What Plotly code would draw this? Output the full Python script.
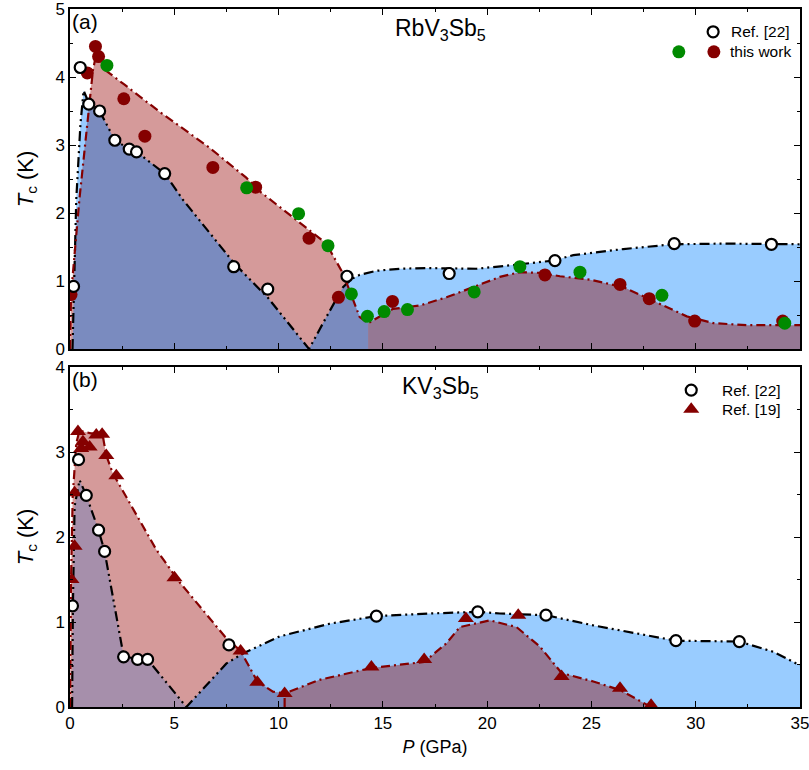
import numpy as np
import plotly.graph_objects as go

# ---------------- (a) RbV3Sb5 ----------------
ref22_a_P = [0.17, 0.49, 0.90, 1.42, 2.15, 2.84, 3.19, 4.54, 7.85, 9.48, 13.28, 18.18, 23.25, 28.97, 33.63]
ref22_a_Tc = [0.92, 4.14, 3.60, 3.50, 3.07, 2.94, 2.90, 2.58, 1.21, 0.88, 1.07, 1.11, 1.30, 1.55, 1.54]

work_red_P = [0.05, 0.83, 1.22, 1.37, 2.58, 3.59, 6.85, 8.90, 11.46, 12.87, 15.46, 22.77, 26.37, 27.77, 29.95, 34.17]
work_red_Tc = [0.80, 4.06, 4.45, 4.30, 3.68, 3.13, 2.67, 2.38, 1.63, 0.76, 0.70, 1.09, 0.95, 0.74, 0.41, 0.41]

work_green_P = [1.77, 8.47, 10.96, 12.37, 13.49, 14.26, 15.06, 16.18, 19.38, 21.57, 24.45, 28.38, 34.27]
work_green_Tc = [4.17, 2.37, 1.99, 1.52, 0.81, 0.48, 0.55, 0.58, 0.84, 1.21, 1.13, 0.79, 0.38]

# guide lines (as drawn in the figure)
guide_black_a_P = [0.12, 0.2, 0.3, 0.5, 0.65, 0.9, 1.42, 2.15, 2.84, 3.19, 4.54, 5.4, 7.9, 9.5, 11.46,
                   12.29, 13.09, 13.5, 13.89, 14.69, 15.81, 17.09, 19.49, 21.09, 23.17, 24.13, 26.53,
                   28.93, 31.32, 35.0]
guide_black_a_Tc = [0.0, 1.0, 2.2, 3.3, 3.8, 3.62, 3.5, 3.07, 2.94, 2.90, 2.58, 2.2, 1.25, 0.75, 0.0,
                    0.47, 0.91, 1.03, 1.09, 1.15, 1.18, 1.19, 1.18, 1.23, 1.30, 1.38, 1.47,
                    1.54, 1.55, 1.54]

guide_red_a_P = [0.0, 0.05, 0.45, 0.94, 1.1, 1.3, 1.57, 2.6, 4.29, 6.69, 8.45, 9.09, 10.69, 12.29,
                 13.09, 13.89, 14.29, 15.49, 16.77, 18.05, 19.33, 20.61, 21.57, 22.53, 23.49, 24.93,
                 26.53, 27.81, 29.57, 30.85, 32.45, 35.0]
guide_red_a_Tc = [0.0, 0.8, 2.2, 3.69, 4.1, 4.4, 4.13, 3.89, 3.49, 2.96, 2.52, 2.32, 1.93, 1.55,
                  1.11, 0.47, 0.38, 0.59, 0.64, 0.76, 0.91, 1.06, 1.13, 1.12, 1.07, 1.02,
                  0.91, 0.73, 0.48, 0.38, 0.35, 0.35]
split_a_P = 14.29   # pressure where the two "this work" domes meet

# ---------------- (b) KV3Sb5 ----------------
ref22_b_P = [0.12, 0.41, 0.78, 1.37, 1.66, 2.57, 3.24, 3.72, 7.62, 14.69, 19.55, 22.82, 29.05, 32.09]
ref22_b_Tc = [1.19, 2.91, 2.49, 2.08, 1.83, 0.59, 0.56, 0.56, 0.73, 1.07, 1.12, 1.08, 0.78, 0.77]

ref19_P = [0.07, 0.22, 0.22, 0.38, 0.54, 0.62, 0.94, 1.26, 1.54, 1.74, 2.22, 5.01, 8.18, 8.98, 10.29,
           14.45, 16.98, 18.98, 21.49, 23.57, 26.37, 27.86]
ref19_Tc = [1.50, 1.89, 2.52, 3.24, 3.04, 3.12, 3.06, 3.20, 3.21, 2.96, 2.72, 1.52, 0.66, 0.29, 0.16,
            0.47, 0.56, 1.04, 1.08, 0.36, 0.22, 0.02]

guide_black_b1_P = [0.1, 0.14, 0.22, 0.46, 0.78, 1.37, 1.66, 2.57, 3.24, 3.72, 5.58]
guide_black_b1_Tc = [0.0, 1.2, 2.36, 2.67, 2.49, 2.08, 1.83, 0.6, 0.56, 0.56, 0.0]
guide_black_b2_P = [5.58, 7.49, 8.29, 10.05, 12.45, 14.69, 17.25, 19.55, 20.61, 22.82, 25.09, 29.05,
                    32.09, 33.72, 35.0]
guide_black_b2_Tc = [0.0, 0.51, 0.63, 0.83, 0.98, 1.07, 1.10, 1.12, 1.10, 1.08, 0.96, 0.78,
                     0.77, 0.65, 0.49]

guide_red_b1_P = [0.0, 0.05, 0.13, 0.3, 0.45, 1.0, 1.55, 1.74, 2.05, 4.14, 5.25, 7.49, 8.18, 8.98,
                  9.73, 10.29]
guide_red_b1_Tc = [0.0, 1.5, 2.48, 3.1, 3.25, 3.22, 3.22, 2.96, 2.75, 1.85, 1.47, 0.81, 0.66, 0.30,
                   0.18, 0.16]
guide_red_b2_P = [10.29, 10.29, 11.97, 14.45, 16.98, 18.05, 18.69, 20.13, 21.41, 22.53, 23.57, 25.09,
                  26.37, 27.86]
guide_red_b2_Tc = [0.0, 0.16, 0.32, 0.46, 0.53, 0.75, 0.94, 1.02, 0.94, 0.71, 0.40, 0.30, 0.20, 0.0]

# ---------------- styles ----------------
C_LIGHTBLUE = '#99CCFF'
C_PINK = '#D59A9A'
C_DARKBLUE = '#7A8BBF'
C_PURPLE = '#957894'
C_LAVENDER = '#A68FAB'
C_RED = '#850000'
C_GREEN = '#008A00'
DASH_BLACK = '10px,4px,2px,4px,2px,4px'
DASH_RED = '9px,4px,2px,4px'
FONT = 'Liberation Sans, Arial, sans-serif'

fig = go.Figure()


def under(P, T):
    P = list(P); T = list(T)
    return [P[0]] + P + [P[-1]], [0] + T + [0]


def under_min(Pa, Ta, Pb, Tb, x0, x1):
    xs = np.union1d(np.linspace(x0, x1, 800), [p for p in list(Pa) + list(Pb) if x0 <= p <= x1])
    ys = np.minimum(np.interp(xs, Pa, Ta), np.interp(xs, Pb, Tb))
    return [x0] + list(xs) + [x1], [0] + list(ys) + [0]


def fill(xy, color, ax):
    xs, ys = xy
    fig.add_trace(go.Scatter(x=xs, y=ys, mode='none', fill='toself', fillcolor=color,
                             hoverinfo='skip', showlegend=False, xaxis='x' + ax, yaxis='y' + ax))


def line(P, T, color, dash, ax, width=2.2):
    fig.add_trace(go.Scatter(x=P, y=T, mode='lines', line=dict(color=color, dash=dash, width=width),
                             hoverinfo='skip', showlegend=False, xaxis='x' + ax, yaxis='y' + ax))


def marks(P, T, ax, symbol, size, color, lcolor, lwidth, clip=True):
    fig.add_trace(go.Scatter(x=P, y=T, mode='markers', cliponaxis=clip,
                             marker=dict(symbol=symbol, size=size, color=color,
                                         line=dict(color=lcolor, width=lwidth)),
                             showlegend=False, xaxis='x' + ax, yaxis='y' + ax))


# ----- panel (a) fills -----
ia = guide_red_a_P.index(split_a_P)
red_a1_P, red_a1_T = guide_red_a_P[:ia + 1], guide_red_a_Tc[:ia + 1]
red_a2_P, red_a2_T = guide_red_a_P[ia:], guide_red_a_Tc[ia:]
fill(under(guide_black_a_P, guide_black_a_Tc), C_LIGHTBLUE, '')
fill(under(red_a1_P, red_a1_T), C_PINK, '')
fill(under_min(guide_black_a_P, guide_black_a_Tc, guide_red_a_P, guide_red_a_Tc, 0.0, split_a_P),
     C_DARKBLUE, '')
fill(under(red_a2_P, red_a2_T), C_PURPLE, '')
line(guide_black_a_P, guide_black_a_Tc, 'black', DASH_BLACK, '')
line(guide_red_a_P, guide_red_a_Tc, C_RED, DASH_RED, '')
marks(work_red_P, work_red_Tc, '', 'circle', 13, C_RED, C_RED, 0)
marks(work_green_P, work_green_Tc, '', 'circle', 13, C_GREEN, C_GREEN, 0)
marks(ref22_a_P, ref22_a_Tc, '', 'circle', 11, 'white', 'black', 2.2)

# ----- panel (b) fills -----
fill(under(guide_black_b2_P, guide_black_b2_Tc), C_LIGHTBLUE, '2')
fill(under(guide_red_b1_P, guide_red_b1_Tc), C_PINK, '2')
fill(under_min(guide_black_b1_P, guide_black_b1_Tc, guide_red_b1_P, guide_red_b1_Tc,
               guide_black_b1_P[0], guide_black_b1_P[-1]), C_LAVENDER, '2')
fill(under_min(guide_black_b2_P, guide_black_b2_Tc, guide_red_b1_P, guide_red_b1_Tc,
               guide_black_b2_P[0], guide_red_b1_P[-1]), C_DARKBLUE, '2')
fill(under(guide_red_b2_P, guide_red_b2_Tc), C_PURPLE, '2')
line(guide_black_b1_P + guide_black_b2_P[1:], guide_black_b1_Tc + guide_black_b2_Tc[1:],
     'black', DASH_BLACK, '2')
line(guide_red_b1_P, guide_red_b1_Tc, C_RED, DASH_RED, '2')
line(guide_red_b2_P, guide_red_b2_Tc, C_RED, DASH_RED, '2')
marks(ref19_P, ref19_Tc, '2', 'triangle-up', 14, C_RED, C_RED, 0)
marks(ref22_b_P, ref22_b_Tc, '2', 'circle', 11, 'white', 'black', 2.2)

# ----- legends (key positions as fractions of each panel) -----
XMAX = 35.0
YMAX_A, YMAX_B = 5.0, 4.0
marks([0.881 * XMAX], [0.933 * YMAX_A], '', 'circle', 11, 'white', 'black', 2.2, clip=False)
marks([0.834 * XMAX], [0.874 * YMAX_A], '', 'circle', 13, C_GREEN, C_GREEN, 0, clip=False)
marks([0.882 * XMAX], [0.874 * YMAX_A], '', 'circle', 13, C_RED, C_RED, 0, clip=False)
marks([0.851 * XMAX], [0.932 * YMAX_B], '2', 'circle', 11, 'white', 'black', 2.2, clip=False)
marks([0.851 * XMAX], [0.876 * YMAX_B], '2', 'triangle-up', 14, C_RED, C_RED, 0, clip=False)

ann = []
def text(t, x, y, ax, size, xanchor='left'):
    ann.append(dict(text=t, x=x, y=y, xref='x' + ax + ' domain', yref='y' + ax + ' domain',
                    xanchor=xanchor, yanchor='middle', showarrow=False,
                    font=dict(size=size, family=FONT, color='black')))

text('Ref. [22]', 0.903, 0.933, '', 15.5)
text('this work', 0.902, 0.874, '', 15.5)
text('Ref. [22]', 0.891, 0.932, '2', 15.5)
text('Ref. [19]', 0.891, 0.876, '2', 15.5)
text('RbV<sub>3</sub>Sb<sub>5</sub>', 0.508, 0.94, '', 23, 'center')
text('KV<sub>3</sub>Sb<sub>5</sub>', 0.508, 0.94, '2', 23, 'center')
text('(a)', 0.0, 0.962, '', 21)
text('(b)', 0.0, 0.962, '2', 21)

axis_common = dict(showline=True, linecolor='black', linewidth=1.5, mirror='ticks',
                   ticks='inside', ticklen=6, tickwidth=1.4, tickcolor='black',
                   showgrid=False, zeroline=False, ticklabeloverflow='allow', automargin=False,
                   tickfont=dict(size=17, family=FONT, color='black'))

fig.update_layout(
    width=809, height=770,
    margin=dict(l=70, r=9, t=9, b=63),
    plot_bgcolor='white', paper_bgcolor='white',
    showlegend=False,
    font=dict(family=FONT, color='black'),
    annotations=ann,
    xaxis=dict(domain=[0, 1], range=[0, XMAX], dtick=5, anchor='y', showticklabels=False,
               minor=dict(dtick=2.5, ticks='inside', ticklen=3.5, tickcolor='black'), **axis_common),
    xaxis2=dict(domain=[0, 1], range=[0, XMAX], dtick=5, anchor='y2',
                minor=dict(dtick=2.5, ticks='inside', ticklen=3.5, tickcolor='black'),
                title=dict(text='<i>P</i> (GPa)', font=dict(size=18, family=FONT), standoff=8),
                **axis_common),
    yaxis=dict(domain=[0.5129, 1], range=[0, YMAX_A], dtick=1, anchor='x',
               minor=dict(dtick=0.5, ticks='inside', ticklen=3.5, tickcolor='black'),
               title=dict(text='<i>T</i><sub>c</sub> (K)', font=dict(size=22, family=FONT), standoff=16),
               **axis_common),
    yaxis2=dict(domain=[0, 0.4871], range=[0, YMAX_B], dtick=1, anchor='x2',
                minor=dict(dtick=0.5, ticks='inside', ticklen=3.5, tickcolor='black'),
                title=dict(text='<i>T</i><sub>c</sub> (K)', font=dict(size=22, family=FONT), standoff=16),
                **axis_common),
)

fig.write_html('out.html')
